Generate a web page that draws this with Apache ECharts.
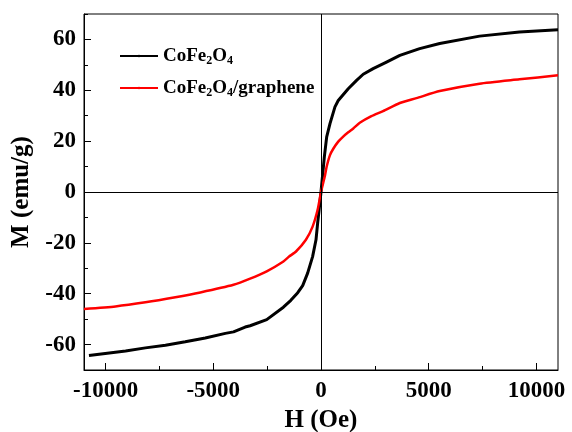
<!DOCTYPE html>
<html>
<head>
<meta charset="utf-8">
<script src="https://cdn.jsdelivr.net/npm/echarts@6/dist/echarts.min.js"></script>
<style>
  html, body { margin: 0; padding: 0; background: #fff; }
  #chart { width: 572px; height: 432px; }
</style>
</head>
<body>
<div id="chart"></div>
<script>
// CoFe2O4 hysteresis
var hBlack = [-10770, -9070, -8150, -7220, -6300, -5370, -4440, -4060, -3520, -3290, -2520, -1745, -1400, -1080, -850, -620, -390, -232, -157, -100, 0,
  155, 264, 417, 648, 800, 1264, 1650, 1960, 2420, 3040, 3660, 4580, 5510, 7360, 9210, 11000];
var mBlack = [-64.3, -62.5, -61.3, -60.3, -58.9, -57.4, -55.6, -55.0, -53.1, -52.6, -50.2, -45.3, -42.6, -39.6, -36.8, -31.9, -25.4, -18.8, -12.3, -8, 0,
  13.8, 21.7, 26.9, 33.5, 36, 40.6, 43.9, 46.3, 48.5, 51.1, 53.7, 56.4, 58.4, 61.3, 62.9, 63.8];

// CoFe2O4/graphene
var hRed = [-11000, -9540, -8150, -6760, -5600, -4060, -3290, -2520, -1745, -1480, -1160, -700, -390, -157, 0,
  185, 264, 417, 570, 800, 1030, 1264, 1500, 1800, 2340, 2880, 3660, 4430, 5510, 7360, 9210, 11000];
var mRed = [-46, -45, -43.4, -41.4, -39.5, -36.5, -34.1, -31.2, -27.3, -25.4, -23.4, -18.8, -13.6, -7, 0,
  6.5, 10, 14.5, 17, 19.8, 21.8, 23.5, 25, 27.2, 29.8, 31.8, 35, 36.9, 39.7, 42.6, 44.3, 45.9];

var xMajor = [-10000, -5000, 0, 5000, 10000];
var xMinor = [-7500, -2500, 2500, 7500];
var yMajor = [-60, -40, -20, 0, 20, 40, 60];
var yMinor = [-70, -50, -30, -10, 10, 30, 50, 70];

var seriesNames = ['CoFe2O4', 'CoFe2O4/graphene'];

function pairs(xs, ys) {
  return xs.map(function (x, i) { return [x, ys[i]]; });
}

var font = 'Liberation Serif';

var chart = echarts.init(document.getElementById('chart'));

var option = {
  animation: false,
  grid: {
    left: 84, right: 14, top: 14, bottom: 62,
    outerBoundsMode: 'none',
    show: true, borderColor: '#000', borderWidth: 1
  },
  legend: {
    orient: 'vertical',
    left: 114, top: 40,
    itemWidth: 38, itemHeight: 3, itemGap: 10,
    data: seriesNames,
    formatter: function (name) {
      if (name === 'CoFe2O4') return '{a|CoFe}{s|2}{a|O}{s|4}';
      return '{a|CoFe}{s|2}{a|O}{s|4}{a|/graphene}';
    },
    textStyle: {
      rich: {
        a: { fontFamily: font, fontWeight: 'bold', fontSize: 19, color: '#000', lineHeight: 22 },
        s: { fontFamily: font, fontWeight: 'bold', fontSize: 12, color: '#000', lineHeight: 22, verticalAlign: 'bottom', padding: [10, 0, 0, 0] }
      }
    }
  },
  xAxis: [{
    type: 'value', min: -11000, max: 11000, interval: 1000, position: 'bottom',
    name: 'H (Oe)', nameLocation: 'middle', nameGap: 35,
    nameTextStyle: { fontFamily: font, fontWeight: 'bold', fontSize: 25, color: '#000' },
    axisLine: { onZero: false, lineStyle: { color: '#000', width: 1 } },
    axisTick: { inside: true, length: 7, customValues: xMajor, lineStyle: { color: '#000' } },
    axisLabel: {
      customValues: xMajor, margin: 10, fontFamily: font, fontWeight: 'bold', fontSize: 23, color: '#000',
      formatter: function (v) { return String(v); }
    },
    splitLine: { show: false }
  }, {
    type: 'value', min: -11000, max: 11000, interval: 1000, position: 'bottom',
    axisLine: { show: false, onZero: false },
    axisTick: { inside: true, length: 4, customValues: xMinor, lineStyle: { color: '#000' } },
    axisLabel: { show: false },
    splitLine: { show: false }
  }],
  yAxis: [{
    type: 'value', min: -70, max: 70, interval: 10, position: 'left',
    name: 'M (emu/g)', nameLocation: 'middle', nameGap: 47,
    nameTextStyle: { fontFamily: font, fontWeight: 'bold', fontSize: 25, color: '#000' },
    axisLine: { onZero: false, lineStyle: { color: '#000', width: 1 } },
    axisTick: { inside: true, length: 7, customValues: yMajor, lineStyle: { color: '#000' } },
    axisLabel: {
      customValues: yMajor, margin: 8, fontFamily: font, fontWeight: 'bold', fontSize: 23, color: '#000',
      formatter: function (v) { return String(v); }
    },
    splitLine: { show: false }
  }, {
    type: 'value', min: -70, max: 70, interval: 10, position: 'left',
    axisLine: { show: false, onZero: false },
    axisTick: { inside: true, length: 4, customValues: yMinor, lineStyle: { color: '#000' } },
    axisLabel: { show: false },
    splitLine: { show: false }
  }],
  series: [{
    name: seriesNames[0],
    type: 'line',
    data: pairs(hBlack, mBlack),
    symbol: 'none',
    smooth: false,
    lineStyle: { color: '#000', width: 3 },
    itemStyle: { color: '#000' },
    markLine: {
      silent: true,
      symbol: 'none',
      label: { show: false },
      lineStyle: { color: '#000', width: 1, type: 'solid' },
      data: [{ xAxis: 0 }, { yAxis: 0 }]
    },
    z: 3
  }, {
    name: seriesNames[1],
    type: 'line',
    data: pairs(hRed, mRed),
    symbol: 'none',
    smooth: 0.2,
    lineStyle: { color: '#ff0000', width: 2.5 },
    itemStyle: { color: '#ff0000' },
    z: 4
  }]
};

chart.setOption(option);
</script>
</body>
</html>
